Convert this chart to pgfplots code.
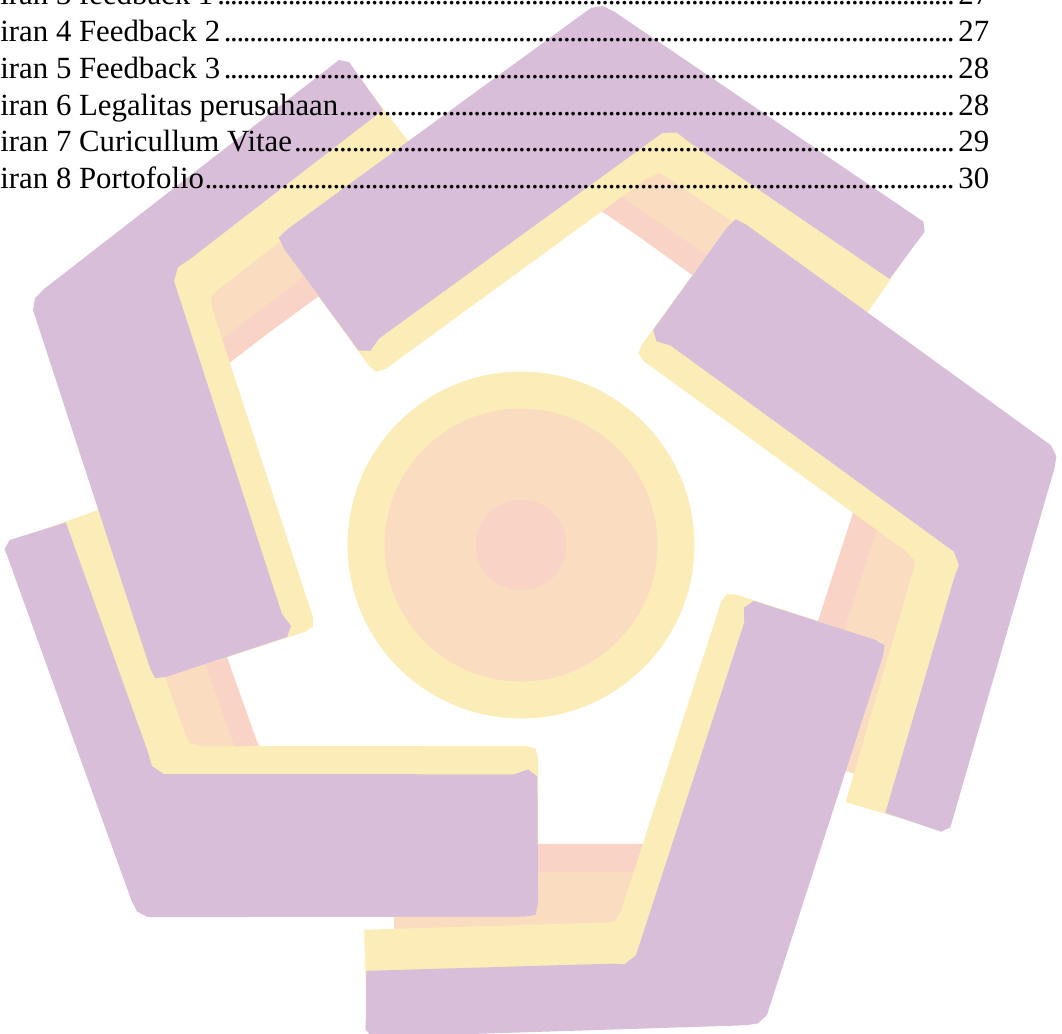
\documentclass[border=0pt]{standalone}
\usepackage{pgfplots}
\pgfplotsset{compat=1.18}
\usepackage{pgfplotstable}
\usepackage{fontspec}
\setmainfont{Liberation Serif}
\definecolor{lpurple}{HTML}{D8BED9}
\definecolor{lyellow}{HTML}{FCECB8}
\definecolor{lpeach}{HTML}{FADDC0}
\definecolor{lpink}{HTML}{F9D3C5}

% one arm of the logo, four layers (pixel coordinates, y downwards)
\pgfplotstableread{
x y
33 310
35 298
44 289
330 67
339 60
349 62
383 110
190 259
178 267
174 281
282 614
291 626
287 637
166 677
155 678
150 668
}\armpurple
\pgfplotstableread{
x y
37.5 302.3
347.6 62.5
408.9 142
217.9 289.6
211 296
212.1 308.3
312.8 616.7
313 626.5
305.1 631.8
160.3 679
}\armyellow
\pgfplotstableread{
x y
37.5 302.3
323.8 80.8
410.8 193.6
116.5 421.2
235.7 786.9
199.3 798.8
}\armpeach
\pgfplotstableread{
x y
37.5 302.3
323.8 80.8
424.8 211.8
147.6 426.3
268.8 798.2
205.8 818.7
}\armpink

\newcommand\tocline[2]{\hbox to 479pt{\llap{Lamp}#1\leaders\hbox to 3.2pt{\hss.\hss}\hfill}#2}

\begin{document}
\begin{tikzpicture}
\begin{axis}[at={(0pt,0pt)}, anchor=south west,
  width=531pt, height=517pt, scale only axis,
  xmin=0, xmax=1062, ymin=0, ymax=1034, y dir=reverse,
  hide axis, clip=false]
% pink layers
\addplot[draw=none, fill=lpink, mark=none] table {\armpink};
\addplot[draw=none, fill=lpink, mark=none, rotate around={-72:(axis cs:520,543)}] table {\armpink};
\addplot[draw=none, fill=lpink, mark=none, rotate around={-144:(axis cs:520,543)}] table {\armpink};
\addplot[draw=none, fill=lpink, mark=none, xshift=-5pt, yshift=1.5pt, rotate around={-216:(axis cs:520,543)}] table {\armpink};
\addplot[draw=none, fill=lpink, mark=none, yshift=8.5pt, rotate around={-288:(axis cs:520,543)}] table {\armpink};
% peach layers
\addplot[draw=none, fill=lpeach, mark=none] table {\armpeach};
\addplot[draw=none, fill=lpeach, mark=none, rotate around={-72:(axis cs:520,543)}] table {\armpeach};
\addplot[draw=none, fill=lpeach, mark=none, rotate around={-144:(axis cs:520,543)}] table {\armpeach};
\addplot[draw=none, fill=lpeach, mark=none, xshift=-5pt, yshift=1.5pt, rotate around={-216:(axis cs:520,543)}] table {\armpeach};
\addplot[draw=none, fill=lpeach, mark=none, yshift=8.5pt, rotate around={-288:(axis cs:520,543)}] table {\armpeach};
% yellow layers
\addplot[draw=none, fill=lyellow, mark=none] table {\armyellow};
\addplot[draw=none, fill=lyellow, mark=none, rotate around={-72:(axis cs:520,543)}] table {\armyellow};
\addplot[draw=none, fill=lyellow, mark=none, rotate around={-144:(axis cs:520,543)}] table {\armyellow};
\addplot[draw=none, fill=lyellow, mark=none, xshift=-5pt, yshift=1.5pt, rotate around={-216:(axis cs:520,543)}] table {\armyellow};
\addplot[draw=none, fill=lyellow, mark=none, yshift=8.5pt, rotate around={-288:(axis cs:520,543)}] table {\armyellow};
% purple layers
\addplot[draw=none, fill=lpurple, mark=none] table {\armpurple};
\addplot[draw=none, fill=lpurple, mark=none, rotate around={-72:(axis cs:520,543)}] table {\armpurple};
\addplot[draw=none, fill=lpurple, mark=none, rotate around={-144:(axis cs:520,543)}] table {\armpurple};
\addplot[draw=none, fill=lpurple, mark=none, xshift=-5pt, yshift=1.5pt, rotate around={-216:(axis cs:520,543)}] table {\armpurple};
\addplot[draw=none, fill=lpurple, mark=none, yshift=8.5pt, rotate around={-288:(axis cs:520,543)}] table {\armpurple};
% central circle
\addplot[only marks, color=lyellow, mark=*, mark size=86.5pt] coordinates {(521,545)};
\addplot[only marks, color=lpeach, mark=*, mark size=68pt] coordinates {(521,545)};
\addplot[only marks, color=lpink, mark=*, mark size=22.5pt] coordinates {(521,545)};
% table of contents lines
\begin{scope}[every node/.style={anchor=base west, inner sep=0pt, font=\fontsize{15.4}{18}\selectfont}]
\node at (axis cs:0,4.5) {\tocline{iran 3 feedback 1}{27}};
\node at (axis cs:0,41.5) {\tocline{iran 4 Feedback 2}{27}};
\node at (axis cs:0,78.3) {\tocline{iran 5 Feedback 3}{28}};
\node at (axis cs:0,115) {\tocline{iran 6 Legalitas perusahaan}{28}};
\node at (axis cs:0,151.7) {\tocline{iran 7 Curicullum Vitae}{29}};
\node at (axis cs:0,188.4) {\tocline{iran 8 Portofolio}{30}};
\end{scope}
\end{axis}
\pgfresetboundingbox
\useasboundingbox (current axis.south west) rectangle (current axis.north east);
\end{tikzpicture}
\end{document}
